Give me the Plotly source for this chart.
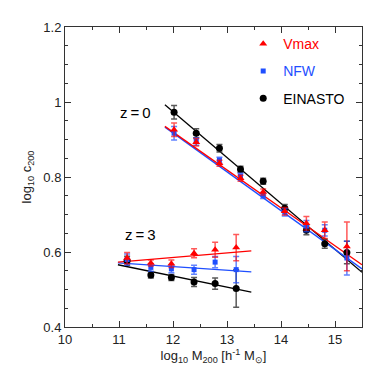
import plotly.graph_objects as go

# ---------------- data ----------------
# z = 0 mass bins (log10 M200)
m_z0 = [12.02, 12.43, 12.86, 13.25, 13.67, 14.07, 14.47, 14.81, 15.22]
# z = 3 mass bins
m_z3 = [11.15, 11.59, 11.97, 12.39, 12.78, 13.17]

vmax_z0 = [0.926, 0.893, 0.837, 0.797, 0.760, 0.709, 0.677, 0.658, 0.615]
vmax_z0_err = [0.018, 0.010, 0.008, 0.008, 0.008, 0.010, 0.018, 0.022, 0.065]
nfw_z0 = [0.917, 0.895, 0.845, 0.802, 0.751, 0.706, 0.669, 0.658, 0.584]
nfw_z0_err = [0.018, 0.010, 0.008, 0.008, 0.008, 0.010, 0.015, 0.015, 0.045]
ein_z0 = [0.973, 0.917, 0.877, 0.821, 0.789, 0.717, 0.658, 0.622, 0.599]
ein_z0_err = [0.018, 0.012, 0.010, 0.008, 0.008, 0.010, 0.012, 0.012, 0.030]

vmax_z3 = [0.584, 0.571, 0.569, 0.597, 0.606, 0.612]
vmax_z3_err = [0.015, 0.008, 0.010, 0.012, 0.020, 0.035]
nfw_z3 = [0.580, 0.559, 0.555, 0.553, 0.573, 0.553]
nfw_z3_err = [0.015, 0.010, 0.010, 0.012, 0.015, 0.035]
ein_z3 = [0.577, 0.539, 0.532, 0.520, 0.516, 0.503]
ein_z3_err = [0.012, 0.008, 0.008, 0.012, 0.015, 0.050]

# fitted power-law lines (end points)
fit_z0_x = [11.85, 15.5]
fit_vmax_z0_y = [0.935, 0.566]
fit_nfw_z0_y = [0.933, 0.555]
fit_ein_z0_y = [0.993, 0.546]
fit_z3_x = [10.98, 13.45]
fit_vmax_z3_y = [0.573, 0.603]
fit_nfw_z3_y = [0.571, 0.547]
fit_ein_z3_y = [0.566, 0.493]

x_ticks = [10, 11, 12, 13, 14, 15]
y_ticks = [0.4, 0.6, 0.8, 1.0, 1.2]
y_tick_labels = ["0.4", "0.6", "0.8", "1", "1.2"]

# ---------------- styles ----------------
RED = "#ff0000"
BLUE = "#1f4fff"
BLACK = "#000000"
FONT = "Liberation Sans"

series = [
    # name, colour, errcolour, symbol, size, z0, z0err, z3, z3err, fit z0, fit z3, rank
    ("EINASTO", BLACK, "rgba(60,60,60,0.85)", "circle", 7,
     ein_z0, ein_z0_err, ein_z3, ein_z3_err, fit_ein_z0_y, fit_ein_z3_y, 3),
    ("NFW", BLUE, "rgba(31,79,255,0.7)", "square", 5,
     nfw_z0, nfw_z0_err, nfw_z3, nfw_z3_err, fit_nfw_z0_y, fit_nfw_z3_y, 2),
    ("Vmax", RED, "rgba(255,0,0,0.65)", "triangle-up", 7,
     vmax_z0, vmax_z0_err, vmax_z3, vmax_z3_err, fit_vmax_z0_y, fit_vmax_z3_y, 1),
]

fig = go.Figure()

for (name, col, ecol, sym, size, z0, z0e, z3, z3e, f0, f3, rank) in series:
    fig.add_trace(go.Scatter(x=fit_z0_x, y=f0, mode="lines",
                             line=dict(color=col, width=1.3),
                             showlegend=False, legendgroup=name))
    fig.add_trace(go.Scatter(x=fit_z3_x, y=f3, mode="lines",
                             line=dict(color=col, width=1.3),
                             showlegend=False, legendgroup=name))

for (name, col, ecol, sym, size, z0, z0e, z3, z3e, f0, f3, rank) in series:
    fig.add_trace(go.Scatter(
        x=m_z0, y=z0, mode="markers",
        marker=dict(color=col, symbol=sym, size=size, line=dict(width=0)),
        error_y=dict(type="data", array=z0e, visible=True, color=ecol,
                     thickness=1.5, width=3),
        name=f'<span style="color:{col}">{name}</span>',
        legendgroup=name, legendrank=rank, showlegend=True))
    fig.add_trace(go.Scatter(
        x=m_z3, y=z3, mode="markers",
        marker=dict(color=col, symbol=sym, size=size, line=dict(width=0)),
        error_y=dict(type="data", array=z3e, visible=True, color=ecol,
                     thickness=1.5, width=3),
        legendgroup=name, showlegend=False))

fig.add_annotation(x=11.3, y=0.973, text="z\u2009=\u20090", showarrow=False,
                   font=dict(family=FONT, size=15, color="black"))
fig.add_annotation(x=11.39, y=0.648, text="z\u2009=\u20093", showarrow=False,
                   font=dict(family=FONT, size=15, color="black"))

axis_common = dict(showline=True, linecolor="#333", linewidth=1,
                   mirror="allticks", ticks="inside", ticklen=6,
                   tickcolor="#333", showgrid=False, zeroline=False,
                   tickfont=dict(family=FONT, size=13, color="#222"))

fig.update_xaxes(range=[10, 15.5], tickvals=x_ticks,
                 minor=dict(dtick=0.5, ticks="inside", ticklen=3, tickcolor="#333"),
                 title=dict(text="log<sub>10</sub> M<sub>200</sub> [h<sup>-1</sup> M<sub>⊙</sub>]",
                            font=dict(family=FONT, size=13, color="#222"), standoff=4),
                 **axis_common)
fig.update_yaxes(range=[0.4, 1.2], tickvals=y_ticks, ticktext=y_tick_labels,
                 minor=dict(dtick=0.05, tick0=0.4, ticks="inside", ticklen=3, tickcolor="#333"),
                 title=dict(text="log<sub>10</sub> c<sub>200</sub>",
                            font=dict(family=FONT, size=13, color="#222"), standoff=8),
                 **axis_common)

fig.update_layout(
    width=374, height=374,
    margin=dict(l=57, r=20, t=19, b=55),
    paper_bgcolor="white", plot_bgcolor="white",
    legend=dict(x=0.60, y=0.996, xanchor="left", yanchor="top",
                bgcolor="rgba(0,0,0,0)", traceorder="grouped",
                tracegroupgap=6,
                font=dict(family=FONT, size=14)),
)

fig.write_html("out.html")
